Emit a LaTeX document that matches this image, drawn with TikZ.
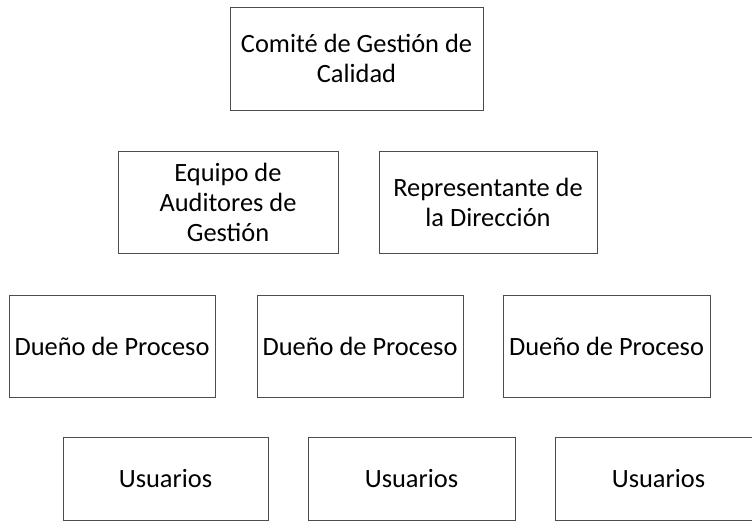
\documentclass[tikz,border=0pt]{standalone}
\usepackage{fontspec}
\setmainfont{Carlito}
\usepackage{tikz}
\tikzset{caja/.style={draw=black!70, line width=0.6pt, align=center, inner sep=0pt,
    font=\fontsize{26.4}{30}\selectfont}}

\begin{document}
\begin{tikzpicture}[x=1pt,y=-1pt]
      \clip (0,0) rectangle (752,523);
      \node[name=comite, caja, minimum width=253pt, minimum height=103pt] at (356.5,58.5){Comité de Gestión de\\Calidad};
      \node[name=equipo, caja, minimum width=220pt, minimum height=102pt] at (228,202){Equipo de\\Auditores de\\Gestión};
      \node[name=repre, caja, minimum width=218pt, minimum height=102pt] at (488,202){Representante de\\la Dirección};
      \node[name=duenoA, caja, minimum width=206pt, minimum height=102pt] at (112,346){Dueño de Proceso};
      \node[name=duenoB, caja, minimum width=206pt, minimum height=102pt] at (360,346){Dueño de Proceso};
      \node[name=duenoC, caja, minimum width=207pt, minimum height=102pt] at (606.5,346){Dueño de Proceso};
      \node[name=usuA, caja, minimum width=205pt, minimum height=83pt] at (165.5,478.5){Usuarios};
      \node[name=usuB, caja, minimum width=207pt, minimum height=83pt] at (411.5,478.5){Usuarios};
      \node[name=usuC, caja, minimum width=207pt, minimum height=83pt] at (658.5,478.5){Usuarios};
    \end{tikzpicture}
\end{document}
